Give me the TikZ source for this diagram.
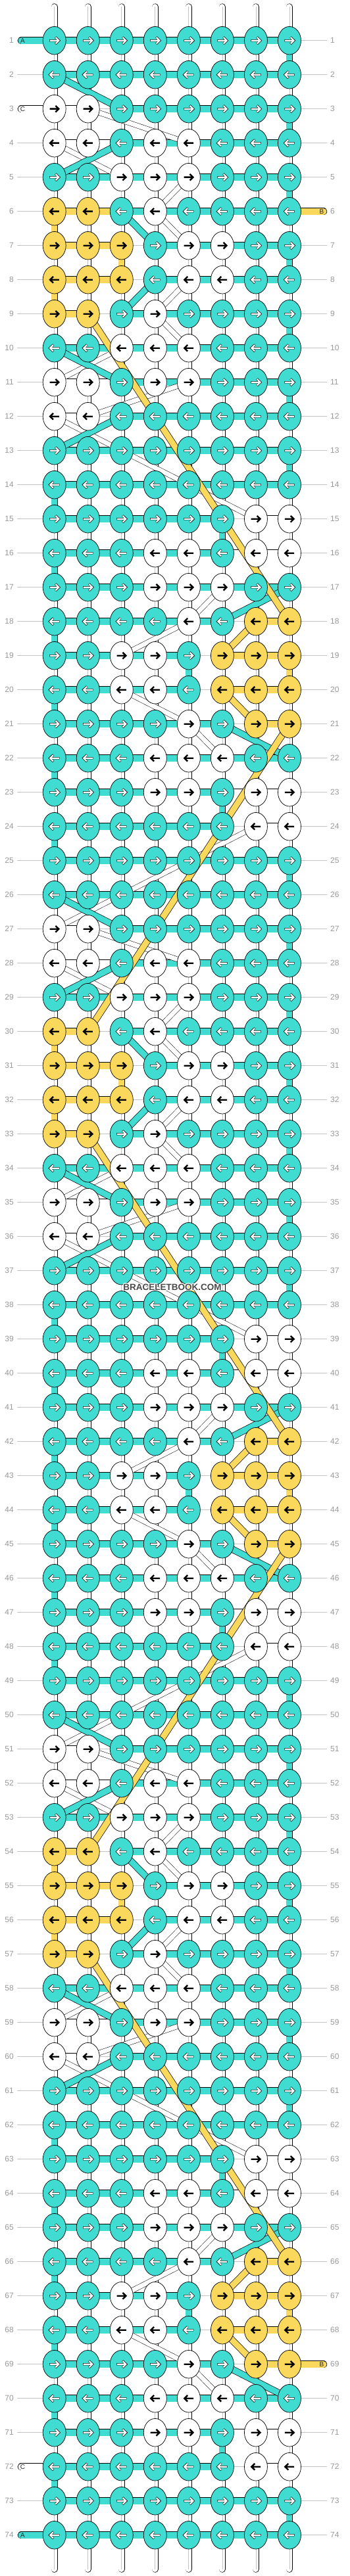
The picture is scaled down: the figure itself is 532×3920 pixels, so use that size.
\documentclass[tikz,border=0pt]{standalone}
\usepackage{fontspec}
\setmainfont{Liberation Sans}
\usetikzlibrary{shapes.geometric}
\definecolor{turq}{HTML}{40DCD2}
\definecolor{yel}{HTML}{FAD85C}
\definecolor{labgray}{HTML}{999999}
\definecolor{guidegray}{HTML}{C4C4C4}
\definecolor{wmgray}{HTML}{4A4A4A}
\pgfdeclarelayer{paper}
\pgfdeclarelayer{bgg}
\pgfdeclarelayer{bg}
\pgfsetlayers{paper,bgg,bg,main}
\tikzset{
  knot/.style={ellipse, draw=black, line width=0.7pt, minimum width=35pt, minimum height=42.6pt, inner sep=0pt, outer sep=0pt},
  hbar/.style={draw=black, line width=0.7pt, double=#1, double distance=10pt},
  vbar/.style={draw=black, line width=0.7pt, double=#1, double distance=9pt},
  band/.style={draw=black, line width=0.7pt, double=#1, double distance=9pt},
  thinband/.style={draw=black, line width=0.5pt, double=white, double distance=7pt},
  guideline/.style={draw=guidegray, line width=0.9pt},
  glab/.style={text=labgray, font=\fontsize{12}{12}\selectfont, inner sep=0pt},
  stublab/.style={text=black!85, font=\fontsize{10}{10}\selectfont, inner sep=0pt},
  wm/.style={font=\bfseries\fontsize{13.5}{13.5}\selectfont, inner sep=0pt},
}
% knot colours per row of the 24-row period: 0 turquoise, 1 white, 2 yellow
\def\K{{0,0,0,0,0,0,0,0,
0,0,0,0,0,0,0,0,
1,1,0,0,0,0,0,0,
1,1,0,1,1,0,0,0,
0,0,1,1,1,0,0,0,
2,2,0,1,0,0,0,0,
2,2,2,0,1,1,0,0,
2,2,2,0,1,1,0,0,
2,2,0,1,0,0,0,0,
0,0,1,1,1,0,0,0,
1,1,0,1,1,0,0,0,
1,1,0,0,0,0,0,0,
0,0,0,0,0,0,0,0,
0,0,0,0,0,0,0,0,
0,0,0,0,0,0,1,1,
0,0,0,1,1,0,1,1,
0,0,0,1,1,1,0,0,
0,0,0,0,1,0,2,2,
0,0,1,1,0,2,2,2,
0,0,1,1,0,2,2,2,
0,0,0,0,1,0,2,2,
0,0,0,1,1,1,0,0,
0,0,0,1,1,0,1,1,
0,0,0,0,0,0,1,1}}
% horizontal bars: 0 turquoise, 1 white, 2 yellow, 3 none
\def\B{{0,0,0,0,0,0,0,
0,0,0,0,0,0,0,
1,3,0,0,0,0,0,
1,1,0,0,0,0,0,
0,0,0,0,0,0,0,
2,3,0,0,0,0,0,
2,2,3,0,0,0,0,
2,2,3,0,0,0,0,
2,3,0,0,0,0,0,
0,0,0,0,0,0,0,
1,1,0,0,0,0,0,
1,3,0,0,0,0,0,
0,0,0,0,0,0,0,
0,0,0,0,0,0,0,
0,0,0,0,0,3,1,
0,0,0,0,0,1,1,
0,0,0,0,0,0,0,
0,0,0,0,0,3,2,
0,0,0,0,3,2,2,
0,0,0,0,3,2,2,
0,0,0,0,0,3,2,
0,0,0,0,0,0,0,
0,0,0,0,0,1,1,
0,0,0,0,0,3,1}}
% vertical segments below each row: 0 turquoise, 1 white, 2 yellow
\def\V{{1,1,1,1,1,1,1,0,
1,1,1,1,1,1,1,1,
1,1,1,1,1,1,1,0,
1,1,1,1,1,1,1,1,
1,1,1,1,1,1,1,0,
2,1,1,1,1,1,1,1,
1,1,2,1,1,1,1,0,
2,1,1,1,1,1,1,1,
1,1,1,1,1,1,1,0,
1,1,1,1,1,1,1,1,
1,1,1,1,1,1,1,0,
1,1,1,1,1,1,1,1,
1,1,1,1,1,1,1,0,
0,1,1,1,1,1,1,1,
1,1,1,1,1,0,1,1,
0,1,1,1,1,1,1,1,
1,1,1,1,1,1,1,1,
0,1,1,1,1,1,1,1,
1,1,1,1,0,1,1,2,
0,1,1,1,1,1,1,1,
1,1,1,1,1,1,1,1,
0,1,1,1,1,1,1,1,
1,1,1,1,1,0,1,1,
0,1,1,1,1,1,1,1}}
\newcommand\knotarrow[3]{%
  \ifnum#3=0\relax
    \draw[shift={(#1.center)}, xscale=#2, black, line width=3.3pt, line join=miter, line cap=butt] (-7.6,0) -- (6.6,0) (1.6,-5.2) -- (6.9,0) -- (1.6,5.2);
    \draw[shift={(#1.center)}, xscale=#2, white, line width=2.2pt, line join=miter, line cap=butt] (-7.1,0) -- (6.3,0) (1.8,-4.8) -- (6.6,0) -- (1.8,4.8);
  \else
    \draw[shift={(#1.center)}, xscale=#2, black, line width=2.4pt, line join=miter, line cap=butt] (-7.2,0) -- (6.2,0) (1.7,-4.8) -- (6.6,0) -- (1.7,4.8);
  \fi}
\begin{document}
\begin{tikzpicture}[x=1pt,y=-1pt]
\useasboundingbox (0,0) rectangle (532,3920);
\begin{pgfonlayer}{paper}
\fill[white] (0,0) rectangle (532,3920);
\end{pgfonlayer}
% knots, labels, guide coordinates
\foreach \r in {1,...,74}{
  \pgfmathtruncatemacro\rp{mod(\r-1,24)}
  \pgfmathsetmacro\yy{61.7+(\r-1)*52}
  \foreach \c in {1,...,8}{
    \pgfmathtruncatemacro\kcode{\K[\rp*8+\c-1]}
    \pgfmathsetmacro\xx{82.7+(\c-1)*51.04}
    \ifcase\kcode\relax\def\kc{turq}\or\def\kc{white}\else\def\kc{yel}\fi
    \node[knot, fill=\kc] (k-\r-\c) at (\xx,\yy) {};
    \ifodd\r\relax\def\sx{1}\else\def\sx{-1}\fi
    \knotarrow{k-\r-\c}{\sx}{\kcode}
  }
  \node[glab, anchor=east] (ll-\r) at (21,\yy) {\r};
  \node[glab, anchor=west] (lr-\r) at (502,\yy) {\r};
  \coordinate (gl-\r) at (26,\yy);
  \coordinate (gr-\r) at (497,\yy);
}
\foreach \c in {1,...,8}{
  \pgfmathsetmacro\xx{82.7+(\c-1)*51.04}
  \coordinate (tp-\c) at (\xx,10.5);
  \coordinate (bt-\c) at (\xx,3909.5);
}
% stubs
\coordinate (sA1) at (32.5,61.7);
\coordinate (sC1) at (32.5,165.7);
\coordinate (sB1) at (491.5,321.7);
\coordinate (sB2) at (491.5,3597.7);
\coordinate (sC2) at (32.5,3753.7);
\coordinate (sA2) at (32.5,3857.7);
\node[stublab] (tA1) at (34.5,61.7) {A};
\node[stublab] (tC1) at (34.5,165.7) {C};
\node[stublab] (tB1) at (489,321.7) {B};
\node[stublab] (tB2) at (489,3597.7) {B};
\node[stublab] (tC2) at (34.5,3753.7) {C};
\node[stublab] (tA2) at (34.5,3857.7) {A};

\begin{pgfonlayer}{bgg}
  \foreach \r in {1,...,74}{\draw[guideline] (gl-\r) -- (gr-\r);}
\end{pgfonlayer}

\begin{pgfonlayer}{bg}
  % vertical end strings
  \foreach \c in {1,...,8}{
    \draw[vbar=white, line cap=round] (tp-\c) -- (k-1-\c.center);
    \draw[guidegray, line width=0.8pt] (tp-\c) -- (k-1-\c.center);
    \draw[vbar=white, line cap=round] (bt-\c) -- (k-74-\c.center);
    \draw[guidegray, line width=0.8pt] (bt-\c) -- (k-74-\c.center);
  }
  % vertical segments
  \foreach \r in {1,...,73}{
    \pgfmathtruncatemacro\rp{mod(\r-1,24)}
    \pgfmathtruncatemacro\rn{\r+1}
    \foreach \c in {1,...,8}{
      \pgfmathtruncatemacro\vcode{\V[\rp*8+\c-1]}
      \ifcase\vcode\relax
        \draw[vbar=turq] (k-\r-\c.center) -- (k-\rn-\c.center);
      \or
        \draw[vbar=white] (k-\r-\c.center) -- (k-\rn-\c.center);
        \draw[guidegray, line width=0.8pt] (k-\r-\c.center) -- (k-\rn-\c.center);
      \else
        \draw[vbar=yel] (k-\r-\c.center) -- (k-\rn-\c.center);
      \fi
    }
  }
  % horizontal bars
  \foreach \r in {1,...,74}{
    \pgfmathtruncatemacro\rp{mod(\r-1,24)}
    \foreach \c in {1,...,7}{
      \pgfmathtruncatemacro\cn{\c+1}
      \pgfmathtruncatemacro\bcode{\B[\rp*7+\c-1]}
      \ifnum\r=6\relax\ifnum\c=2\relax\def\bcode{2}\fi\fi
      \ifcase\bcode\relax
        \draw[hbar=turq] (k-\r-\c.center) -- (k-\r-\cn.center);
      \or
        \draw[hbar=white] (k-\r-\c.center) -- (k-\r-\cn.center);
      \or
        \draw[hbar=yel] (k-\r-\c.center) -- (k-\r-\cn.center);
      \fi
    }
  }
  % side stubs
  \draw[hbar=turq, line cap=round] (sA1) -- (k-1-1.center);
  \draw[hbar=white, line cap=round] (sC1) -- (k-3-1.center);
  \draw[hbar=yel, line cap=round] (sB1) -- (k-6-8.center);
  \draw[hbar=yel, line cap=round] (sB2) -- (k-69-8.center);
  \draw[hbar=white, line cap=round] (sC2) -- (k-72-1.center);
  \draw[hbar=turq, line cap=round] (sA2) -- (k-74-1.center);
  % thin white strands
  \foreach \p in {0,24,48}{
    \foreach \ca/\ra/\cb/\rb in {2/3/5/4, 1/4/3/5, 5/5/4/6, 4/6/5/7, 5/8/4/9, 4/9/5/10, 3/10/1/11, 5/11/2/12, 1/12/3/13, 3/13/5/14, 5/14/7/15, 6/17/5/18, 5/18/3/19, 3/20/5/21, 5/21/6/22}{
      \pgfmathtruncatemacro\rA{\ra+\p}
      \pgfmathtruncatemacro\rB{\rb+\p}
      \draw[thinband] (k-\rA-\ca.center) -- (k-\rB-\cb.center);
    }
  }
  \foreach \p in {0,24}{
    \foreach \ca/\ra/\cb/\rb in {7/24/5/25, 5/25/3/26, 3/26/1/27}{
      \pgfmathtruncatemacro\rA{\ra+\p}
      \pgfmathtruncatemacro\rB{\rb+\p}
      \draw[thinband] (k-\rA-\ca.center) -- (k-\rB-\cb.center);
    }
  }
  % turquoise crossings
  \foreach \p in {0,24,48}{
    \foreach \ca/\ra/\cb/\rb in {1/2/3/3, 3/4/1/5, 3/6/4/7, 4/8/3/9, 1/10/3/11, 3/12/1/13, 8/17/6/18, 6/21/8/22}{
      \pgfmathtruncatemacro\rA{\ra+\p}
      \pgfmathtruncatemacro\rB{\rb+\p}
      \draw[band=turq] (k-\rA-\ca.center) -- (k-\rB-\cb.center);
    }
  }
  % yellow strands
  \foreach \p in {0,24,48}{
    \foreach \ca/\ra/\cb/\rb in {2/9/8/18, 7/18/6/19, 6/20/7/21}{
      \pgfmathtruncatemacro\rA{\ra+\p}
      \pgfmathtruncatemacro\rB{\rb+\p}
      \draw[band=yel] (k-\rA-\ca.center) -- (k-\rB-\cb.center);
    }
  }
  \foreach \p in {0,24}{
    \pgfmathtruncatemacro\rA{21+\p}
    \pgfmathtruncatemacro\rB{30+\p}
    \draw[band=yel] (k-\rA-8.center) -- (k-\rB-2.center);
  }
\end{pgfonlayer}

% watermark
\foreach \dx/\dy [count=\i] in {1/0,-1/0,0/1,0/-1,1/1,-1/-1,1/-1,-1/1}{
  \node[wm, text=white] (wmh\i) at (262+\dx,1959+\dy) {BRACELETBOOK.COM};
}
\node[wm, text=wmgray] (wmt) at (262,1959) {BRACELETBOOK.COM};
\end{tikzpicture}
\end{document}
